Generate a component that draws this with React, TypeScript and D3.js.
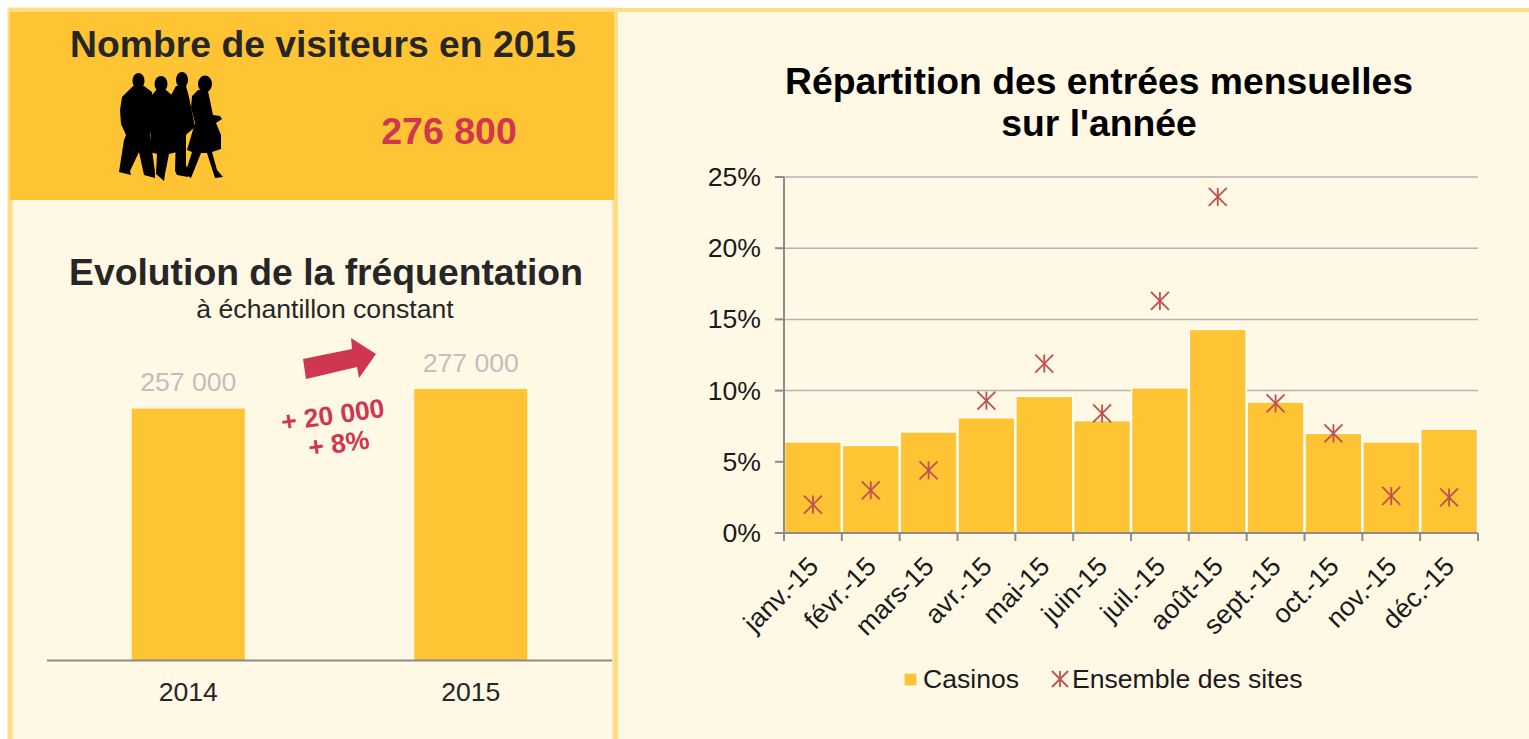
import React from 'react';
import * as d3 from 'd3';

const months = ['janv.-15', 'févr.-15', 'mars-15', 'avr.-15', 'mai-15', 'juin-15', 'juil.-15', 'août-15', 'sept.-15', 'oct.-15', 'nov.-15', 'déc.-15'];
const casinos = [6.4, 6.15, 7.1, 8.1, 9.6, 7.9, 10.2, 14.3, 9.2, 7.0, 6.4, 7.3];
const ensemble = [2.0, 3.0, 4.4, 9.3, 11.9, 8.4, 16.3, 23.6, 9.1, 7.0, 2.6, 2.5];
const percentTicks = [0, 5, 10, 15, 20, 25];

const years = ['2014', '2015'];
const visitors = [257000, 277000];

const FONT = '"Liberation Sans", Arial, sans-serif';
const AMBER = '#FFC433';
const CREAM = '#FFF8E5';
const EDGE = '#FFDD85';
const RED = '#CF364F';
const MARKER = '#C0504D';
const AXIS = '#8C8C8C';
const INK = '#262626';
const BLACK = '#1A1A1A';

// silhouettes, traced by eye
const heads = [[138.5, 81, 6, 8], [161, 84, 6.5, 8], [182, 80, 6, 8], [205, 84, 7, 8.5]];
const bodies = [
  'M133 86 L144 86 L152 92 L155 116 L153 124 L150 135 L155 172 L155 178 L144 175 L139 152 L130 171 L131 175 L119 172 L124 140 L126 135 L121 124 L120 110 L122 97 Z',
  'M156 90 L166 90 L174 97 L177 152 L169 154 L165 174 L164 181 L156 174 L157 154 L150 152 L151 120 L150 98 Z',
  'M176 86 L186 86 L189 97 L195 127 L188 133 L186 135 L186 165 L189 173 L188 177 L177 175 L175 171 L176 133 L171 125 L170 97 Z',
  'M198 90 L208 91 L213 115 L220 116 L222 119 L216 123 L221 135 L221 149 L212 152 L217 170 L223 177 L215 178 L207 153 L201 153 L191 178 L185 174 L192 152 L187 150 L195 123 L191 108 L192 96 Z',
];

function Visits() {
  const x = d3.scaleBand<string>().domain(years).range([47, 612]).paddingInner(0.6).paddingOuter(0.3);
  const y = d3.scaleLinear().domain([0, 277000]).range([660, 389]);
  const fmt = (v: number) => d3.format(',')(v).replace(',', ' ');
  return (
    <g>
      <text x={326} y={285} textAnchor="middle" fontSize={37.3} fontWeight="bold" fill={INK}>Evolution de la fréquentation</text>
      <text x={325} y={318} textAnchor="middle" fontSize={26.6} fill={INK}>à échantillon constant</text>
      {visitors.map((v, i) => (
        <g key={years[i]}>
          <rect x={x(years[i])} y={y(v)} width={x.bandwidth()} height={660 - y(v)} fill={AMBER} />
          <text x={x(years[i])! + x.bandwidth() / 2} y={y(v) - 17.5} textAnchor="middle" fontSize={26.6} fill="#BFBFBF">{fmt(v)}</text>
          <text x={x(years[i])! + x.bandwidth() / 2} y={701} textAnchor="middle" fontSize={26.6} fill={INK}>{years[i]}</text>
        </g>
      ))}
      <line x1={47} x2={612} y1={660.5} y2={660.5} stroke={AXIS} strokeWidth={2} />
      <path d="M303 359 L352 349 L351 338 L376 354 L359 378 L357 367 L306 379 Z" fill={RED} />
      <g transform="rotate(-8 334 424)" fill={RED} fontSize={26.5} fontWeight="bold" textAnchor="middle">
        <text x={334} y={424}>+ 20 000</text>
        <text x={336} y={453}>+ 8%</text>
      </g>
    </g>
  );
}

function Monthly() {
  const x = d3.scaleBand<string>().domain(months).range([784, 1478]).paddingInner(0).paddingOuter(0);
  const y = d3.scaleLinear().domain([0, 25]).range([533, 177]);
  const star = 9;
  return (
    <g>
      <text x={1099} y={94} textAnchor="middle" fontSize={37.3} fontWeight="bold" fill="#000">Répartition des entrées mensuelles</text>
      <text x={1099} y={136} textAnchor="middle" fontSize={37.3} fontWeight="bold" fill="#000">sur l'année</text>
      {percentTicks.map(t => (
        <g key={t}>
          {t > 0 && <line x1={784} x2={1478} y1={y(t)} y2={y(t)} stroke="#B3B3B3" strokeWidth={1.5} />}
          <line x1={775} x2={784} y1={y(t)} y2={y(t)} stroke={AXIS} strokeWidth={2} />
          <text x={761} y={y(t) + 9} textAnchor="end" fontSize={26.6} fill={BLACK}>{t}%</text>
        </g>
      ))}
      {months.map((m, i) => (
        <rect key={m} x={x(m)! + 0.5} y={y(casinos[i])} width={x.bandwidth() - 1} height={533 - y(casinos[i])} fill={AMBER} stroke="#fff" strokeWidth={1.5} />
      ))}
      <line x1={784} x2={784} y1={177} y2={533} stroke={AXIS} strokeWidth={2} />
      <line x1={775} x2={1478} y1={533} y2={533} stroke={AXIS} strokeWidth={2} />
      {months.map(m => (
        <line key={m} x1={x(m)} x2={x(m)} y1={533} y2={541} stroke={AXIS} strokeWidth={2} />
      ))}
      <line x1={1478} x2={1478} y1={533} y2={541} stroke={AXIS} strokeWidth={2} />
      {months.map((m, i) => {
        const cx = x(m)! + x.bandwidth() / 2;
        const cy = y(ensemble[i]);
        return (
          <g key={m} stroke={MARKER} strokeWidth={1.8}>
            <line x1={cx - star} x2={cx + star} y1={cy - star} y2={cy + star} />
            <line x1={cx - star} x2={cx + star} y1={cy + star} y2={cy - star} />
            <line x1={cx} x2={cx} y1={cy - star} y2={cy + star} />
          </g>
        );
      })}
      {months.map(m => {
        const cx = x(m)! + x.bandwidth() / 2;
        return (
          <text key={m} transform={`translate(${cx + 2} 563) rotate(-45)`} textAnchor="end" dominantBaseline="middle" fontSize={26.6} fill={BLACK}>{m}</text>
        );
      })}
      <rect x={904} y={673} width={13} height={13} fill={AMBER} stroke="#fff" strokeWidth={1} />
      <text x={923} y={688} fontSize={26.6} fill={BLACK}>Casinos</text>
      <g stroke={MARKER} strokeWidth={1.8}>
        <line x1={1052} x2={1068} y1={671} y2={687} />
        <line x1={1052} x2={1068} y1={687} y2={671} />
        <line x1={1060} x2={1060} y1={671} y2={687} />
      </g>
      <text x={1072} y={688} fontSize={26.6} fill={BLACK}>Ensemble des sites</text>
    </g>
  );
}

export default function App() {
  return (
    <svg width={1529} height={739} style={{ position: 'absolute', left: 0, top: 0 }} fontFamily={FONT}>
      <rect width={1529} height={739} fill="#fff" />
      {/* left panel */}
      <rect x={10} y={10} width={605} height={740} fill={CREAM} stroke={EDGE} strokeWidth={5} />
      <rect x={10} y={12} width={604} height={188} fill={AMBER} />
      {/* right panel */}
      <rect x={616} y={10} width={920} height={740} fill={CREAM} stroke={EDGE} strokeWidth={4} />
      <text x={323} y={57} textAnchor="middle" fontSize={37.3} fontWeight="bold" fill={INK}>Nombre de visiteurs en 2015</text>
      <text x={449} y={144} textAnchor="middle" fontSize={37.5} fontWeight="bold" fill={RED}>276 800</text>
      {heads.map((h, i) => <ellipse key={i} cx={h[0]} cy={h[1]} rx={h[2]} ry={h[3]} fill="#000" />)}
      {bodies.map((d, i) => <path key={i} d={d} fill="#000" />)}
      <Visits />
      <Monthly />
    </svg>
  );
}
